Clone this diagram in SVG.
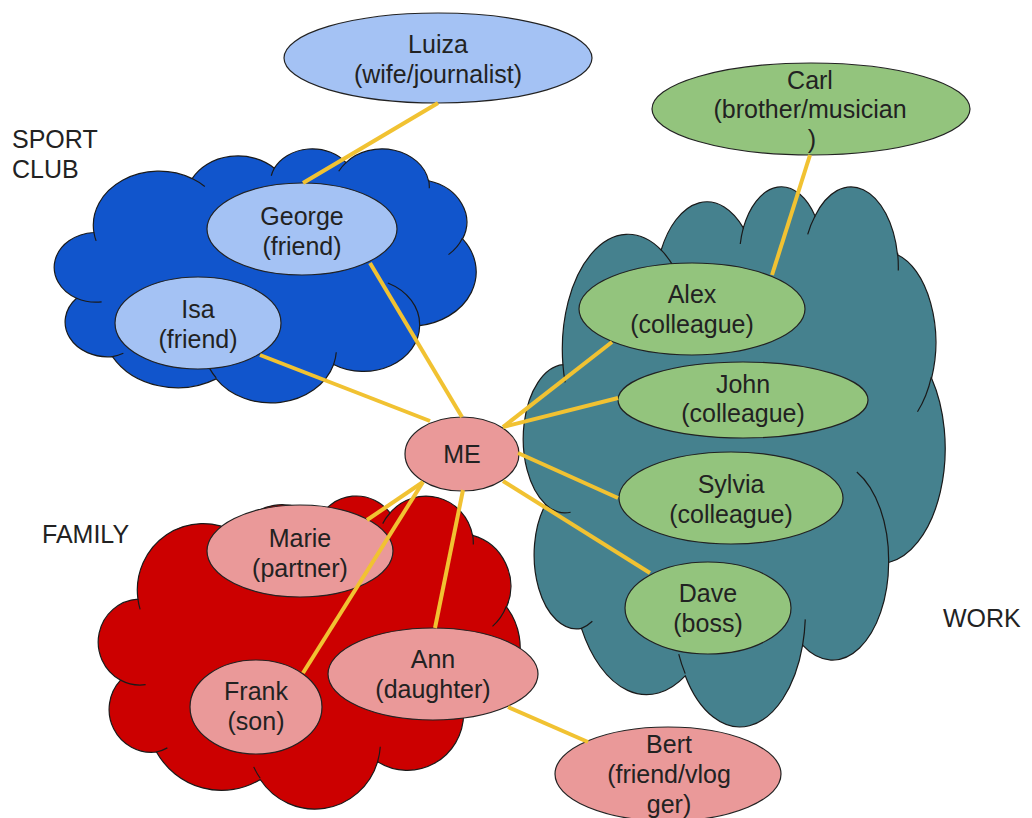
<svg xmlns="http://www.w3.org/2000/svg" xmlns:xlink="http://www.w3.org/1999/xlink" width="1032" height="818" viewBox="0 0 1032 818">
<style>
.cloud { stroke:#1a1a1a; stroke-width:1.2; }
.n ellipse { stroke:#222; stroke-width:1.2; }
.blue { fill:#a4c2f4; }
.green { fill:#93c47d; }
.pink { fill:#ea9999; }
text { font-family:"Liberation Sans", Arial, sans-serif; font-size:25px; fill:#222; text-anchor:middle; }
text.lbl { text-anchor:start; }
#connectors line { stroke:#f1c232; stroke-width:4; stroke-linecap:butt; }
</style>
<defs>
<path id="cloudOuter" vector-effect="non-scaling-stroke" d="M3900 14370 A6753 9190 0 0 1 14005 5202 A5333 7267 0 0 1 22456 3432 A4365 5945 0 0 1 29833 2481 A4857 6595 0 0 1 38318 5576 A5333 7273 0 0 1 41819 15460 A6775 9220 0 0 1 37405 30203 A5785 7867 0 0 1 28556 36813 A6752 9215 0 0 1 16481 39264 A7720 10543 0 0 1 5805 35470 A4360 5918 0 0 1 2114 25548 A4345 5945 0 0 1 3900 14370 Z"/>
<path id="cloudInner" vector-effect="non-scaling-stroke" fill="none" d="M4693 26177 A4345 5945 0 0 1 2114 25548 M6928 34899 A4360 5918 0 0 1 5805 35470 M16478 39090 A6752 9215 0 0 1 15813 37524 M28827 34751 A6752 9215 0 0 1 28556 36813 M34129 22954 A5785 7867 0 0 1 37405 30203 M41798 15354 A5333 7273 0 0 1 40370 18136 M38324 5426 A4857 6595 0 0 1 38395 6840 M29078 3952 A4857 6595 0 0 1 29833 2481 M22141 4720 A4365 5945 0 0 1 22456 3432 M14000 5192 A6753 9190 0 0 1 15305 6551 M4127 15789 A6753 9190 0 0 1 3900 14370"/>
</defs>
<rect width="1032" height="818" fill="#ffffff"/>

<g id="cloud-sport" class="cloud" transform="translate(56,148) scale(0.0097222,0.0058796)">
<use xlink:href="#cloudOuter" fill="#1155cc"/>
<use xlink:href="#cloudInner" fill="none"/>
</g>
<g id="cloud-work" class="cloud" transform="translate(525,185) scale(0.0097222,0.0125)">
<use xlink:href="#cloudOuter" fill="#45818e"/>
<use xlink:href="#cloudInner" fill="none"/>
</g>
<g id="cloud-family" class="cloud" transform="translate(100,495) scale(0.0097222,0.0072454)">
<use xlink:href="#cloudOuter" fill="#cc0000"/>
<use xlink:href="#cloudInner" fill="none"/>
</g>

<g id="label-sport"><text class="lbl" x="12" y="148">SPORT</text><text class="lbl" x="12" y="178">CLUB</text></g>
<g id="label-family"><text class="lbl" x="42" y="543">FAMILY</text></g>
<g id="label-work"><text class="lbl" x="943" y="627">WORK</text></g>

<g id="node-luiza" class="n"><ellipse class="blue" cx="438" cy="58" rx="154" ry="45"/><text x="438" y="53">Luiza</text><text x="438" y="83">(wife/journalist)</text></g>
<g id="node-carl" class="n"><ellipse class="green" cx="811" cy="109" rx="159" ry="46"/><text x="810" y="89">Carl</text><text x="810" y="118">(brother/musician</text><text x="812" y="148">)</text></g>
<g id="node-george" class="n"><ellipse class="blue" cx="302" cy="229" rx="95" ry="46"/><text x="302" y="225">George</text><text x="302" y="255">(friend)</text></g>
<g id="node-isa" class="n"><ellipse class="blue" cx="198" cy="323" rx="83" ry="46"/><text x="198" y="318">Isa</text><text x="198" y="348">(friend)</text></g>
<g id="node-alex" class="n"><ellipse class="green" cx="692" cy="309" rx="113" ry="46"/><text x="692" y="303">Alex</text><text x="692" y="333">(colleague)</text></g>
<g id="node-john" class="n"><ellipse class="green" cx="743" cy="400" rx="125" ry="38"/><text x="743" y="393">John</text><text x="743" y="422">(colleague)</text></g>
<g id="node-sylvia" class="n"><ellipse class="green" cx="731" cy="498" rx="112" ry="46"/><text x="731" y="493">Sylvia</text><text x="731" y="523">(colleague)</text></g>
<g id="node-dave" class="n"><ellipse class="green" cx="708" cy="608" rx="83" ry="46"/><text x="708" y="602">Dave</text><text x="708" y="632">(boss)</text></g>
<g id="node-me" class="n"><ellipse class="pink" cx="462" cy="454" rx="57" ry="37"/><text x="462" y="463">ME</text></g>
<g id="node-marie" class="n"><ellipse class="pink" cx="300" cy="551" rx="93" ry="46"/><text x="300" y="547">Marie</text><text x="300" y="577">(partner)</text></g>
<g id="node-frank" class="n"><ellipse class="pink" cx="256" cy="707" rx="66" ry="47"/><text x="256" y="700">Frank</text><text x="256" y="730">(son)</text></g>
<g id="node-ann" class="n"><ellipse class="pink" cx="433" cy="674" rx="105" ry="46"/><text x="433" y="668">Ann</text><text x="433" y="698">(daughter)</text></g>
<g id="node-bert" class="n"><ellipse class="pink" cx="668" cy="774" rx="113" ry="47"/><text x="669" y="753">Bert</text><text x="669" y="783">(friend/vlog</text><text x="669" y="813">ger)</text></g>

<g id="connectors">
<line x1="438" y1="103" x2="303" y2="183"/>
<line x1="370" y1="263" x2="462" y2="417"/>
<line x1="260" y1="355" x2="430" y2="421"/>
<line x1="367" y1="520" x2="423" y2="482"/>
<line x1="303" y1="673" x2="423" y2="482"/>
<line x1="435" y1="628" x2="463" y2="490"/>
<line x1="612" y1="342" x2="503" y2="427"/>
<line x1="618" y1="398" x2="503" y2="427"/>
<line x1="618" y1="498" x2="518" y2="453"/>
<line x1="650" y1="573" x2="503" y2="481"/>
<line x1="810" y1="155" x2="772" y2="275"/>
<line x1="508" y1="707" x2="588" y2="742"/>
</g>
</svg>
